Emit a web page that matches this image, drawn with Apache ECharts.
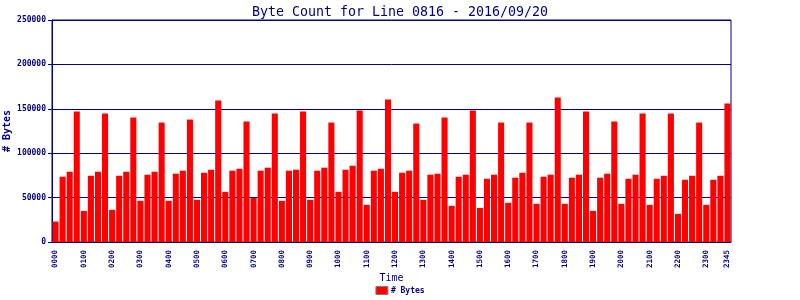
<!DOCTYPE html>
<html><head><meta charset="utf-8">
<script src="https://cdn.jsdelivr.net/npm/echarts@6/dist/echarts.min.js"></script>
<style>html,body{margin:0;padding:0;background:#fff}#c{width:800px;height:300px}</style>
</head><body><div id="c"></div>
<script>
const categories = [];
for (let h = 0; h < 24; h++) for (let m = 0; m < 60; m += 15)
  categories.push(String(h).padStart(2,'0') + String(m).padStart(2,'0'));
const byteValues = [
  23000, 73500, 79100, 147000, 35000, 74600, 79100, 144700,
  36200, 74600, 79100, 140200, 46400, 75800, 79100, 134500,
  46400, 76900, 80300, 137900, 47500, 78000, 81400, 159400,
  56500, 80300, 82500, 135700, 49700, 80300, 83700, 144700,
  46400, 80300, 81400, 147000, 47500, 80300, 83700, 134500,
  56500, 81400, 85900, 148100, 41800, 80300, 82500, 160600,
  56500, 78000, 80300, 133400, 47500, 75800, 76900, 140200,
  40700, 73500, 75800, 148100, 38400, 71200, 75800, 134500,
  44100, 72400, 78000, 134500, 43000, 73500, 75800, 162800,
  43000, 72400, 75800, 147000, 35000, 72400, 76900, 135700,
  43000, 71200, 75800, 144700, 41800, 71200, 74600, 144700,
  31700, 70100, 74600, 134500, 41800, 70100, 74600, 156000
];
const yTicks = [0, 50000, 100000, 150000, 200000, 250000];
const navy = '#000080';
const font = 'DejaVu Sans Mono';
const chart = echarts.init(document.getElementById('c'), null, {renderer:'canvas'});
chart.setOption({
  animation: false,
  backgroundColor: '#fff',
  title: {
    text: 'Byte Count for Line 0816 - 2016/09/20',
    left: 'center', top: 1,
    textStyle: {color: navy, fontFamily: font, fontSize: 13.3, fontWeight: 'normal'}
  },
  legend: {
    bottom: 0, left: 'center',
    itemWidth: 12, itemHeight: 8, itemGap: 4,
    icon: 'rect',
    itemStyle: {borderColor: '#808080', borderWidth: 1},
    textStyle: {color: navy, fontFamily: font, fontSize: 8, fontWeight: 'bold', padding: [0,0,0,-2]},
    data: ['# Bytes']
  },
  grid: {left: 52, right: 69, top: 20, bottom: 58, show: true, borderColor: navy, borderWidth: 1,
    containLabel: false, outerBoundsMode: 'none'},
  xAxis: {
    type: 'category', data: categories,
    name: 'Time', nameLocation: 'middle', nameGap: 31, nameMoveOverlap: false,
    nameTextStyle: {color: navy, fontFamily: font, fontSize: 10},
    axisLine: {lineStyle: {color: navy, width: 1}},
    axisTick: {show: false},
    axisLabel: {
      rotate: 90, color: navy, fontFamily: font, fontSize: 7.5, fontWeight: 'bold', margin: 8,
      interval: (i) => i % 4 === 0 || i === categories.length - 1
    }
  },
  yAxis: {
    type: 'value', min: 0, max: 250000, interval: 50000,
    name: '# Bytes', nameLocation: 'middle', nameGap: 40, nameRotate: 90, nameMoveOverlap: false,
    nameTextStyle: {color: navy, fontFamily: font, fontSize: 10, fontWeight: 'bold'},
    axisLine: {show: true, lineStyle: {color: navy, width: 1}},
    axisTick: {show: true, length: 4, lineStyle: {color: navy}},
    splitLine: {lineStyle: {color: navy, width: 1}},
    axisLabel: {color: navy, fontFamily: font, fontSize: 8, fontWeight: 'bold', margin: 6,
      formatter: (v) => yTicks.includes(v) ? String(v) : ''}
  },
  series: [{
    name: '# Bytes', type: 'bar', data: byteValues,
    barCategoryGap: '14%',
    itemStyle: {color: '#ff0000'}
  }]
});
</script></body></html>
